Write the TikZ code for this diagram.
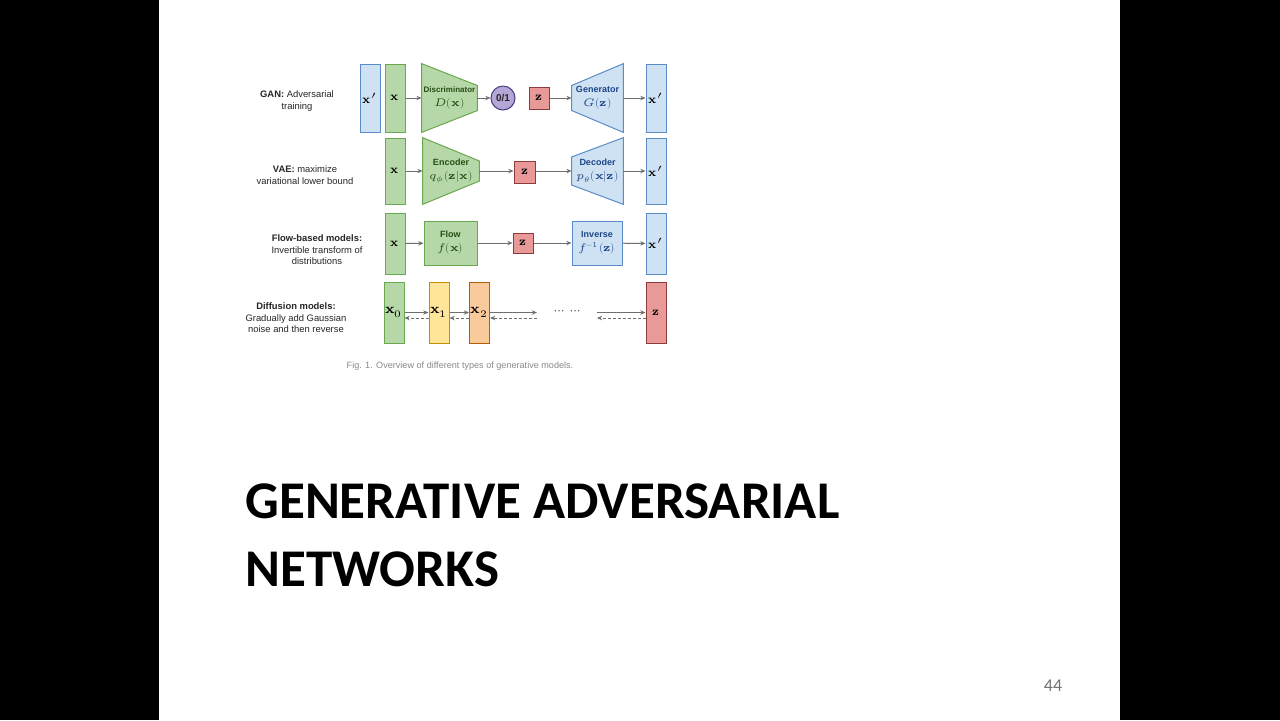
\documentclass[tikz,border=0pt]{standalone}
\usepackage{amsmath}
\usepackage{fontspec}
\usepackage{unicode-math}
\setmainfont{Liberation Sans}
\setmathfont{Latin Modern Math}
\newfontfamily\titlefont{Carlito}
\usetikzlibrary{arrows.meta,positioning,backgrounds}

\definecolor{gfill}{HTML}{B6D7A8}
\definecolor{gline}{HTML}{6AA84F}
\definecolor{gtext}{HTML}{274E13}
\definecolor{bfill}{HTML}{CFE2F3}
\definecolor{bline}{HTML}{5B8CC8}
\definecolor{btext}{HTML}{1C4587}
\definecolor{rfill}{HTML}{EA9999}
\definecolor{rline}{HTML}{8E3B3B}
\definecolor{pfill}{HTML}{B4A7D6}
\definecolor{pline}{HTML}{4B3A82}
\definecolor{yfill}{HTML}{FFE599}
\definecolor{yline}{HTML}{BF9000}
\definecolor{ofill}{HTML}{F9CB9C}
\definecolor{oline}{HTML}{B45F06}
\definecolor{arr}{HTML}{6E6E6E}
\definecolor{capgray}{HTML}{8A8A8A}

\begin{document}
\begin{tikzpicture}[x=0.5pt,y=-0.5pt,>={Stealth[length=2.6pt,width=2.2pt]},
  vec/.style={draw,line width=0.5pt,minimum width=10pt,inner sep=0pt,font=\fontsize{6}{6}\selectfont},
  trap/.style={inner sep=0pt,align=center,font=\fontsize{4.5}{7}\selectfont},
  greenbox/.style={fill=gfill,draw=gline},
  bluebox/.style={fill=bfill,draw=bline},
  redbox/.style={fill=rfill,draw=rline},
  yellowbox/.style={fill=yfill,draw=yline},
  orangebox/.style={fill=ofill,draw=oline},
  lab/.style={align=center,text=black!85,font=\fontsize{4.7}{5.8}\selectfont},
  fwd/.style={draw=arr,line width=0.5pt,->},
  bwd/.style={draw=arr,line width=0.5pt,dash pattern=on 1.5pt off 1pt,->}]

\begin{scope}[on background layer]
\fill[black] (0,0) rectangle (1280,720);
\fill[white] (159,0) rectangle (1120,720);
\end{scope}

\node[lab] (ganlab) at (297,101) {\textbf{GAN:} Adversarial\\training};
\node[lab] (vaelab) at (305,175) {\textbf{VAE:} maximize\\variational lower bound};
\node[lab] (flowlab) at (317,250) {\textbf{Flow-based models:}\\Invertible transform of\\distributions};
\node[lab] (difflab) at (296,318) {\textbf{Diffusion models:}\\Gradually add Gaussian\\noise and then reverse};

\node[vec,bluebox,minimum height=34pt] (xpa) at (370,98) {$\symbf{x}'$};
\node[vec,greenbox,minimum height=34pt] (xa) at (395,98) {$\symbf{x}$};
\node[trap,minimum width=27.5pt,minimum height=34pt,text=gtext] (disc) at (449.5,98)
  {\textbf{\fontsize{4}{7}\selectfont Discriminator}\\{\fontsize{5.5}{7}\selectfont$D(\symbf{x})$}};
\node[circle,draw=pline,fill=pfill,line width=0.5pt,minimum size=12pt,inner sep=0pt,
  font=\fontsize{5}{6}\selectfont\bfseries,text=black!85] (out) at (503,98) {0/1};
\node[vec,redbox,minimum width=10pt,minimum height=11pt] (za) at (539,98) {$\symbf{z}$};
\node[trap,minimum width=25.5pt,minimum height=34pt,text=btext] (gen) at (597.5,98)
  {\textbf{Generator}\\{\fontsize{5.5}{7}\selectfont$G(\symbf{z})$}};
\node[vec,bluebox,minimum height=34pt] (xpb) at (656,98) {$\symbf{x}'$};

\node[vec,greenbox,minimum height=33pt] (xb) at (395,171) {$\symbf{x}$};
\node[trap,minimum width=28pt,minimum height=33pt,text=gtext] (enc) at (451,171)
  {\textbf{Encoder}\\{\fontsize{5.5}{7}\selectfont$q_\phi(\symbf{z}|\symbf{x})$}};
\node[vec,redbox,minimum width=10.5pt,minimum height=11pt] (zb) at (524.5,172) {$\symbf{z}$};
\node[trap,minimum width=25.5pt,minimum height=33pt,text=btext] (dec) at (597.5,171)
  {\textbf{Decoder}\\{\fontsize{5.5}{7}\selectfont$p_\theta(\symbf{x}|\symbf{z})$}};
\node[vec,bluebox,minimum height=33pt] (xpc) at (656,171) {$\symbf{x}'$};

\node[vec,greenbox,minimum height=30.5pt] (xc) at (395,243.5) {$\symbf{x}$};
\node[vec,greenbox,minimum width=26.5pt,minimum height=22pt,align=center,text=gtext,
  font=\fontsize{4.5}{7}\selectfont] (flow) at (450.5,243)
  {\textbf{Flow}\\{\fontsize{5.5}{7}\selectfont$f(\symbf{x})$}};
\node[vec,redbox,minimum height=10pt] (zc) at (523,243) {$\symbf{z}$};
\node[vec,bluebox,minimum width=25pt,minimum height=22pt,align=center,text=btext,
  font=\fontsize{4.5}{7}\selectfont] (inv) at (597,243)
  {\textbf{Inverse}\\{\fontsize{5.5}{7}\selectfont$f^{-1}(\symbf{z})$}};
\node[vec,bluebox,minimum height=30.5pt] (xpd) at (656,243.5) {$\symbf{x}'$};

\node[vec,greenbox,minimum height=30.5pt,font=\fontsize{7}{7}\selectfont] (d0) at (394,312.5) {$\symbf{x}_0$};
\node[vec,yellowbox,minimum height=30.5pt,font=\fontsize{7}{7}\selectfont] (d1) at (439,312.5) {$\symbf{x}_1$};
\node[vec,orangebox,minimum height=30.5pt,font=\fontsize{7}{7}\selectfont] (d2) at (479.5,312.5) {$\symbf{x}_2$};
\node[vec,redbox,minimum height=30.5pt] (dz) at (656,312.5) {$\symbf{z}$};
\coordinate (fa) at (537,312.5);
\coordinate (fb) at (597,312.5);
\node[text=black!75,font=\fontsize{6.5}{6}\selectfont] (dots) at (567.5,313) {$\cdots\;\cdots$};

\begin{scope}[on background layer]
\draw[greenbox,line width=0.5pt] (disc.north west) -- ([yshift=6.25pt]disc.east)
  -- ([yshift=-6.25pt]disc.east) -- (disc.south west) -- cycle;
\draw[bluebox,line width=0.5pt] (gen.north east) -- ([yshift=6.25pt]gen.west)
  -- ([yshift=-6.25pt]gen.west) -- (gen.south east) -- cycle;
\draw[greenbox,line width=0.5pt] (enc.north west) -- ([yshift=5pt]enc.east)
  -- ([yshift=-5pt]enc.east) -- (enc.south west) -- cycle;
\draw[bluebox,line width=0.5pt] (dec.north east) -- ([yshift=7pt]dec.west)
  -- ([yshift=-7pt]dec.west) -- (dec.south east) -- cycle;
\end{scope}

\draw[fwd] (xa) -- (disc);
\draw[fwd] (disc) -- (out);
\draw[fwd] (za) -- (gen);
\draw[fwd] (gen) -- (xpb);
\draw[fwd] (xb) -- (enc);
\draw[fwd] (enc.east) -- (zb.west |- enc.east);
\draw[fwd] (zb.east |- dec.west) -- (dec.west);
\draw[fwd] (dec) -- (xpc);
\draw[fwd] (xc) -- (flow);
\draw[fwd] (flow) -- (zc);
\draw[fwd] (zc) -- (inv);
\draw[fwd] (inv) -- (xpd);

\draw[fwd] (d0) -- (d1);
\draw[bwd] ([yshift=-2.75pt]d1.west) -- ([yshift=-2.75pt]d0.east);
\draw[fwd] (d1) -- (d2);
\draw[bwd] ([yshift=-2.75pt]d2.west) -- ([yshift=-2.75pt]d1.east);
\draw[fwd] (d2.east) -- (fa);
\draw[bwd] ([yshift=-2.75pt]fa) -- ([yshift=-2.75pt]d2.east);
\draw[fwd] (fb) -- (dz.west);
\draw[bwd] ([yshift=-2.75pt]dz.west) -- ([yshift=-2.75pt]fb);

\node[text=capgray,font=\fontsize{4.55}{5}\selectfont] (cap) at (460,366)
  {Fig. 1. Overview of different types of generative models.};

\node[anchor=base west,align=left,inner sep=0pt,
  font=\titlefont\bfseries\fontsize{26.5}{34}\selectfont] (title) at (245,586)
  {GENERATIVE ADVERSARIAL\\NETWORKS};
\node[text=black!55,font=\titlefont\fontsize{9}{10}\selectfont] (num) at (1053,686) {44};
\end{tikzpicture}
\end{document}
